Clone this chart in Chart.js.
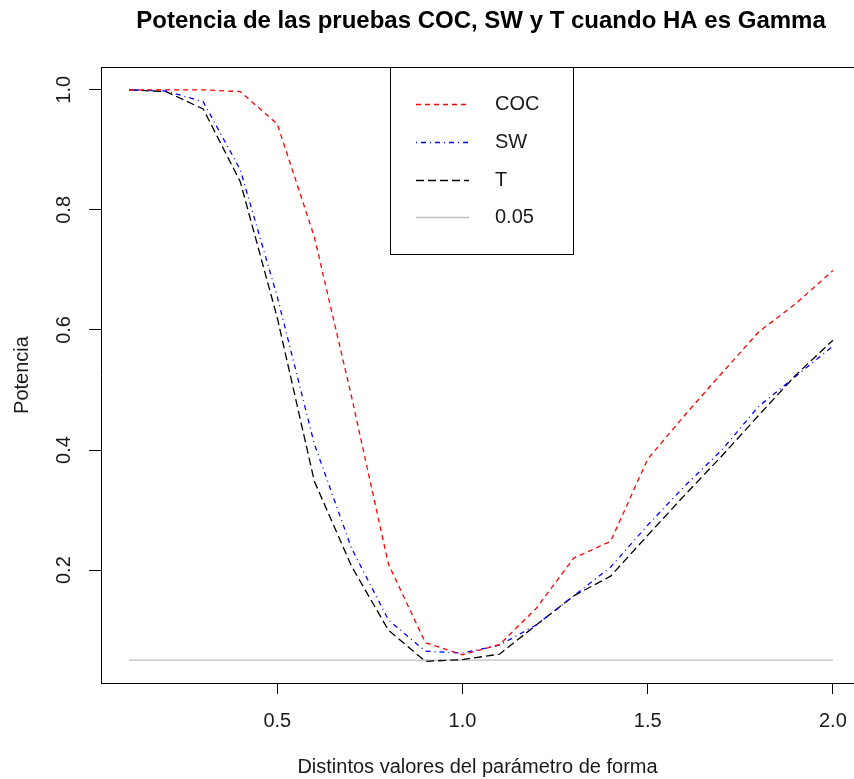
<!DOCTYPE html>
<html>
<head>
<meta charset="utf-8">
<title>Potencia de las pruebas COC, SW y T</title>
<script src="https://cdn.jsdelivr.net/npm/chart.js@4.4.1/dist/chart.umd.min.js"></script>
<style>
  html, body { margin: 0; padding: 0; background: #fff; overflow: hidden; }
  canvas { display: block; }
</style>
</head>
<body>
<canvas id="grafico" width="854" height="779"></canvas>
<script>
const forma = [0.1, 0.2, 0.3, 0.4, 0.5, 0.6, 0.7, 0.8, 0.9, 1.0,
               1.1, 1.2, 1.3, 1.4, 1.5, 1.6, 1.7, 1.8, 1.9, 2.0];
const potenciaCOC = [1.0, 1.0, 1.0, 0.997, 0.943, 0.755, 0.49, 0.21, 0.079, 0.059,
                     0.076, 0.137, 0.22, 0.248, 0.385, 0.458, 0.528, 0.597, 0.644, 0.699];
const potenciaSW = [1.0, 0.998, 0.98, 0.867, 0.655, 0.41, 0.237, 0.117, 0.065, 0.062,
                    0.075, 0.109, 0.157, 0.205, 0.275, 0.34, 0.4, 0.473, 0.523, 0.573];
const potenciaT = [1.0, 0.997, 0.968, 0.847, 0.62, 0.348, 0.207, 0.1, 0.048, 0.051,
                   0.06, 0.109, 0.157, 0.19, 0.258, 0.325, 0.39, 0.458, 0.525, 0.583];
const nivelX = [0.1, 2.0];
const nivel = [0.05, 0.05];
const ticksX = [0.5, 1.0, 1.5, 2.0];
const ticksY = [0.2, 0.4, 0.6, 0.8, 1.0];

const titulo = "Potencia de las pruebas COC, SW y T cuando HA es Gamma";
const fuente = "'Liberation Sans', Arial, sans-serif";

const puntos = (xs, ys) => xs.map((x, i) => ({ x: x, y: ys[i] }));

Chart.defaults.font.family = fuente;
Chart.defaults.color = "#1a1a1a";

// titulo, borde superior, etiquetas del eje y giradas y leyenda
const extras = {
  id: "extras",
  afterDraw(chart) {
    const c = chart.ctx;
    const area = chart.chartArea;
    const ejeY = chart.scales.y;
    c.save();
    c.fillStyle = "#000";
    c.font = "bold 24px " + fuente;
    c.textAlign = "center";
    c.textBaseline = "middle";
    c.fillText(titulo, 481, 21);

    c.strokeStyle = "#000";
    c.lineWidth = 1;
    c.beginPath();
    c.moveTo(area.left, Math.round(area.top) + 0.5);
    c.lineTo(area.right, Math.round(area.top) + 0.5);
    c.stroke();

    c.fillStyle = "#1a1a1a";
    c.font = "20px " + fuente;
    ticksY.forEach(v => {
      c.save();
      c.translate(64, ejeY.getPixelForValue(v));
      c.rotate(-Math.PI / 2);
      c.fillText(v.toFixed(1), 0, 0);
      c.restore();
    });

    // leyenda
    c.strokeRect(390.5, 67.5, 183, 187);
    const filas = [104, 142, 180, 217];
    chart.data.datasets.forEach((ds, i) => {
      c.save();
      c.strokeStyle = ds.borderColor;
      c.lineWidth = 1.3;
      c.setLineDash(ds.borderDash || []);
      c.beginPath();
      c.moveTo(416, filas[i] + 0.5);
      c.lineTo(469, filas[i] + 0.5);
      c.stroke();
      c.restore();
      c.textAlign = "left";
      c.fillText(ds.label, 495, filas[i]);
    });
    c.restore();
  }
};

new Chart(document.getElementById("grafico"), {
  type: "line",
  data: {
    datasets: [
      { label: "COC", data: puntos(forma, potenciaCOC), borderColor: "#ff0000", borderDash: [5, 4] },
      { label: "SW", data: puntos(forma, potenciaSW), borderColor: "#0000ff", borderDash: [1, 4, 5, 4] },
      { label: "T", data: puntos(forma, potenciaT), borderColor: "#000000", borderDash: [8, 4] },
      { label: "0.05", data: puntos(nivelX, nivel), borderColor: "#bebebe" },
    ],
  },
  options: {
    responsive: false,
    animation: false,
    layout: { padding: { top: 67, left: 0, right: 0, bottom: 0 } },
    elements: {
      point: { radius: 0 },
      line: { borderWidth: 1.3, tension: 0, fill: false },
    },
    plugins: {
      legend: { display: false },
      tooltip: { enabled: false },
    },
    scales: {
      x: {
        type: "linear",
        min: 0.024,
        max: 2.057,
        afterBuildTicks: s => { s.ticks = ticksX.map(v => ({ value: v })); },
        afterFit: s => { s.height = 96; s.paddingLeft = 0; s.paddingRight = 0; },
        ticks: {
          font: { size: 20 },
          padding: 15,
          maxRotation: 0,
          callback: v => Number(v).toFixed(1),
        },
        grid: { drawOnChartArea: false, drawTicks: true, tickLength: 11, color: "#000" },
        border: { color: "#000", width: 1 },
        title: {
          display: true,
          text: "Distintos valores del parámetro de forma",
          font: { size: 20 },
          padding: { top: 21, bottom: 0 },
        },
      },
      y: {
        min: 0.012,
        max: 1.038,
        afterBuildTicks: s => { s.ticks = ticksY.map(v => ({ value: v })); },
        afterFit: s => { s.width = 101; s.paddingTop = 0; s.paddingBottom = 0; },
        ticks: { display: false },
        grid: { drawOnChartArea: false, drawTicks: true, tickLength: 12, color: "#000" },
        border: { color: "#000", width: 1 },
        title: {
          display: true,
          text: "Potencia",
          font: { size: 20 },
          padding: { top: 10, bottom: 0 },
        },
      },
    },
  },
  plugins: [extras],
});
</script>
</body>
</html>
